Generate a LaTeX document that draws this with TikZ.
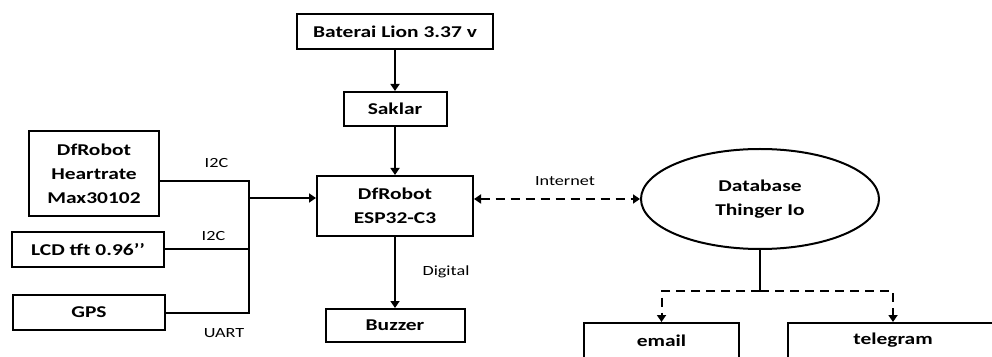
\documentclass[tikz,border=0pt]{standalone}
\usepackage{fontspec}
\setmainfont{Carlito}[FakeStretch=1.3]
\usepackage{tikz}
\usetikzlibrary{arrows.meta, positioning, shapes.geometric}

\begin{document}
\begin{tikzpicture}[
  x=1pt, y=1pt,
  box/.style={draw, line width=2pt, align=center, inner sep=0pt,
              font=\bfseries\fontsize{16.5}{24}\selectfont},
  db/.style={box, ellipse},
  lbl/.style={font=\fontsize{14}{16}\selectfont},
  arr/.style={-{Triangle[length=7pt, width=9pt]}, line width=2pt},
  wire/.style={line width=2pt},
  dashline/.style={dash pattern=on 9pt off 6pt}
]
\useasboundingbox (0,0) rectangle (992,356);

\node[box, minimum width=196pt, minimum height=35pt] (bat) at (395,324.5) {Baterai Lion 3.37 v};
\node[box, minimum width=103pt, minimum height=34pt, below=41pt of bat] (sak) {Saklar};
\node[box, minimum width=156pt, minimum height=60pt, below=48pt of sak] (esp) {DfRobot\\ESP32-C3};
\node[box, minimum width=139pt, minimum height=33pt, below=71pt of esp] (buz) {Buzzer};

\node[box, minimum width=130pt, minimum height=85pt] (heart) at (94,182.5) {DfRobot\\Heartrate\\Max30102};
\node[box, minimum width=152pt, minimum height=35pt] (lcd) at (88,106.5) {LCD tft 0.96’’};
\node[box, minimum width=152pt, minimum height=35pt] (gps) at (89,43.5) {GPS};
\coordinate (jn) at (249,158);

\node[db, minimum width=238pt, minimum height=100pt] (base) at (760,157) {Database\\Thinger Io};
\node[box, minimum width=155pt, minimum height=35pt] (email) at (661.5,15.5) {email};
\node[box, minimum width=210pt, minimum height=35pt] (tele) at (893,15.5) {telegram};

\node[lbl] (i2ca) at (216.5,193) {I2C};
\node[lbl] (i2cb) at (213.5,120) {I2C};
\node[lbl] (uart) at (224,22.5) {UART};
\node[lbl] (inet) at (565,175) {Internet};
\node[lbl] (dig) at (446,84) {Digital};

% power path
\draw[arr] (bat) -- (sak);
\draw[arr] (sak) -- (esp);
\draw[arr] (esp) -- (buz);

% sensors to the board
\draw[wire] ([yshift=-7.5pt]heart.east) -| (jn);
\draw[wire] (lcd.east) -| (jn);
\draw[wire] (gps.east) -| (jn);
\draw[arr] (jn) -- (jn -| esp.west);

% cloud
\draw[arr, dashline, {Triangle[length=7pt, width=9pt]}-{Triangle[length=7pt, width=9pt]}] (esp.east |- base.west) -- (base.west);
\draw[wire] (base.south) -- ++(0,-41) coordinate (split);
\draw[arr, dashline] (split) -| (email.north);
\draw[arr, dashline] (split) -| (tele.north);
\end{tikzpicture}
\end{document}
